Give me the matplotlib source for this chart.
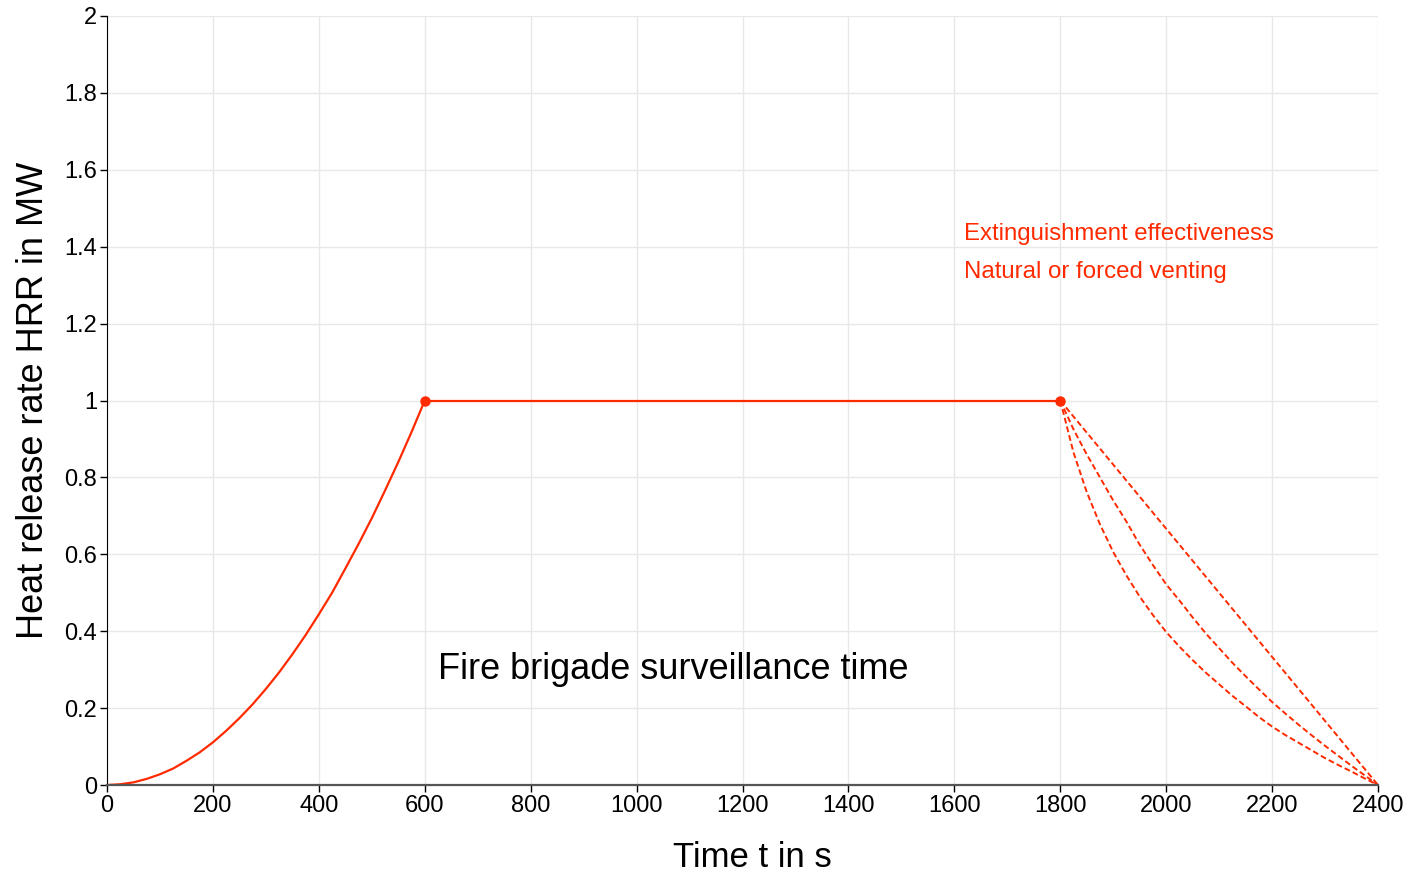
import matplotlib
matplotlib.use('Agg')
import matplotlib.pyplot as plt
import matplotlib.ticker as mticker

plt.rcParams['font.family'] = ['Liberation Sans', 'DejaVu Sans']

RED = '#ff2a00'

# growth phase (t-squared fire)
t_growth = [0, 25, 50, 75, 100, 125, 150, 175, 200, 225, 250, 275, 300,
            325, 350, 375, 400, 425, 450, 475, 500, 525, 550, 575, 600]
hrr_growth = [0.0, 0.002, 0.007, 0.016, 0.028, 0.043, 0.063, 0.085, 0.111,
              0.141, 0.174, 0.21, 0.25, 0.293, 0.34, 0.39, 0.444, 0.50,
              0.563, 0.627, 0.694, 0.766, 0.84, 0.918, 1.0]

# steady phase
t_steady = [600, 1800]
hrr_steady = [1.0, 1.0]

# decay phase, three variants
t_decay_lin = [1800, 2400]
hrr_decay_lin = [1.0, 0.0]

t_decay = [1800, 1825, 1850, 1875, 1900, 1925, 1950, 1975, 2000, 2025,
           2050, 2075, 2100, 2125, 2150, 2175, 2200, 2225, 2250, 2275,
           2300, 2325, 2350, 2375, 2400]
hrr_decay_mid = [1.0, 0.925, 0.86, 0.80, 0.74, 0.685, 0.625, 0.572, 0.522,
                 0.48, 0.436, 0.394, 0.356, 0.318, 0.283, 0.249, 0.216,
                 0.186, 0.157, 0.129, 0.102, 0.076, 0.05, 0.025, 0.0]
hrr_decay_fast = [1.0, 0.865, 0.762, 0.678, 0.606, 0.545, 0.49, 0.442,
                  0.398, 0.36, 0.325, 0.292, 0.262, 0.232, 0.205, 0.177,
                  0.152, 0.13, 0.11, 0.09, 0.07, 0.052, 0.035, 0.017, 0.0]

key_t = [600, 1800]
key_hrr = [1.0, 1.0]

fig = plt.figure(figsize=(14.1, 8.74), dpi=100)
ax = fig.add_axes([0.0759, 0.1018, 0.9014, 0.8799])

ax.plot(t_growth, hrr_growth, color=RED, lw=1.6)
ax.plot(t_steady, hrr_steady, color=RED, lw=1.6)
dash = (0, (3, 1.6))
ax.plot(t_decay_lin, hrr_decay_lin, color=RED, lw=1.4, linestyle=dash)
ax.plot(t_decay, hrr_decay_mid, color=RED, lw=1.4, linestyle=dash)
ax.plot(t_decay, hrr_decay_fast, color=RED, lw=1.4, linestyle=dash)
ax.plot(key_t, key_hrr, 'o', color=RED, ms=6.5, zorder=5)

# annotations
ax.text(625, 0.30, 'Fire brigade surveillance time', fontsize=26,
        ha='left', va='center', color='black')
ax.text(1618, 1.433, 'Extinguishment effectiveness', fontsize=17.3,
        ha='left', va='center', color=RED)
ax.text(1618, 1.334, 'Natural or forced venting', fontsize=17.3,
        ha='left', va='center', color=RED)

# axes formatting
ax.set_xlim(0, 2400)
ax.set_ylim(0, 2)
ax.set_xticks(range(0, 2401, 200))
ax.set_yticks([i * 0.2 for i in range(11)])
ax.yaxis.set_major_formatter(mticker.FuncFormatter(lambda v, p: f'{v:g}'))
ax.grid(True, color='#e8e8e8', lw=1)
ax.set_axisbelow(True)
for s in ['top', 'right']:
    ax.spines[s].set_visible(False)
ax.spines['left'].set_color('black')
ax.spines['bottom'].set_color('#555555')
ax.spines['bottom'].set_linewidth(1.6)
ax.tick_params(direction='out', length=5, width=1, labelsize=17, pad=2)

ax.set_xlabel('Time t in s', fontsize=25)
ax.xaxis.set_label_coords(0.5075, -0.094, transform=ax.transAxes)
ax.xaxis.label.set_va('center')
ax.set_ylabel('Heat release rate HRR in MW', fontsize=26, labelpad=10)

plt.savefig('out.png', dpi=100)
